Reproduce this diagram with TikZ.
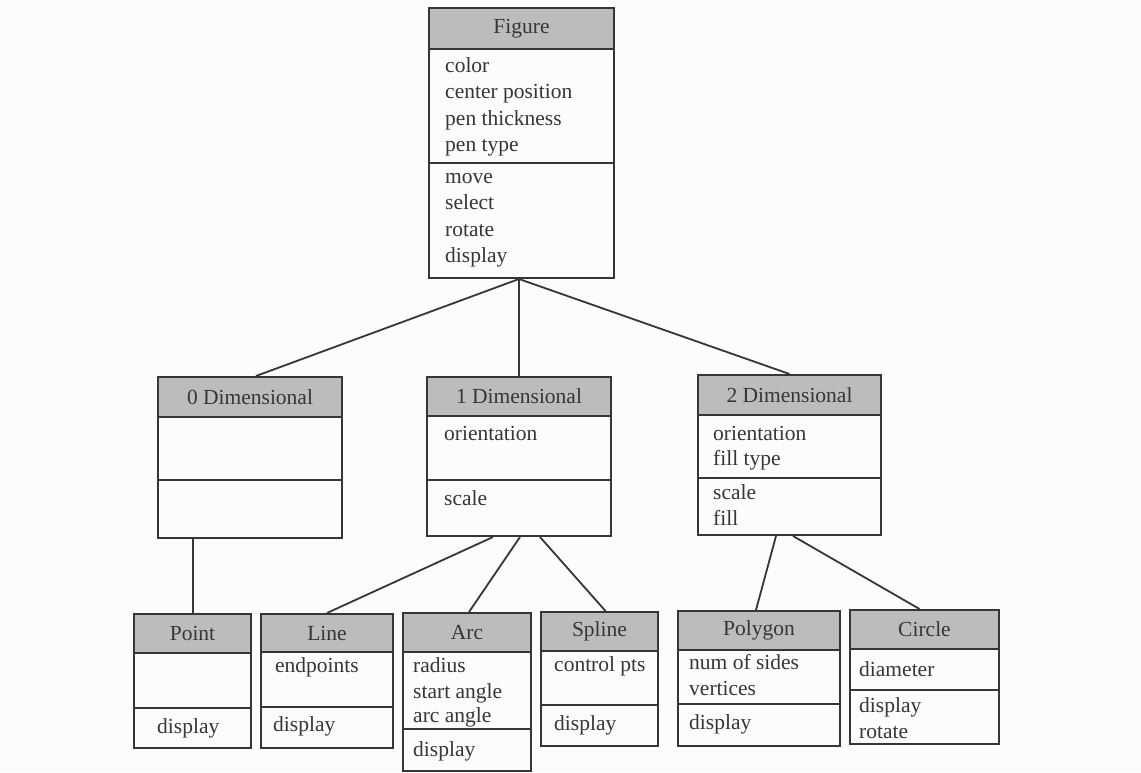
\documentclass[tikz,border=0pt]{standalone}
\usepackage{fontspec}
\setmainfont{Liberation Serif}
\usetikzlibrary{calc}
\definecolor{ink}{HTML}{363636}
\definecolor{hdr}{HTML}{BCBCBC}
\definecolor{paper}{HTML}{FCFCFC}
\tikzset{
  hdrbox/.style={draw=ink, line width=2pt, fill=hdr, anchor=north west, inner sep=0pt, text=ink,
    font=\fontsize{21.5}{26}\selectfont},
  boxframe/.style={draw=ink, line width=2pt, anchor=north west, inner sep=0pt},
  rule/.style={draw=ink, line width=2pt},
  txt/.style={anchor=base west, inner sep=0pt, text=ink, font=\fontsize{21.5}{26}\selectfont},
  link/.style={draw=ink, line width=1.8pt}
}
\newcommand\classbox[8]{%
  \node[hdrbox, minimum width={#4-#2}, minimum height={#6-#3}] (#1-h) at (#2,#3) {#8};
  \node[boxframe, minimum width={#4-#2}, minimum height={#5-#3}] (#1) at (#2,#3) {};
  \draw[rule] (#2,#7) -- (#4,#7);
}
\begin{document}
\begin{tikzpicture}[x=1pt,y=-1pt]
\fill[paper] (0,0) rectangle (1141,772);
\useasboundingbox (0,0) rectangle (1141,772);

\classbox{fig}{428}{7}{613}{277}{48}{163}{Figure}
\classbox{d0}{157}{376}{341}{537}{416}{480}{0 Dimensional}
\classbox{d1}{426}{376}{610}{535}{415}{480}{1 Dimensional}
\classbox{d2}{697}{374}{880}{534}{414}{478}{2 Dimensional}
\classbox{pt}{133}{613}{250}{747}{652}{708}{Point}
\classbox{ln}{260}{613}{392}{747}{651}{707}{Line}
\classbox{arc}{402}{612}{530}{770}{651}{729}{Arc}
\classbox{sp}{540}{611}{657}{745}{650}{705}{Spline}
\classbox{pg}{677}{610}{839}{745}{649}{704}{Polygon}
\classbox{ci}{849}{609}{998}{743}{648}{690}{Circle}

% connectors
\coordinate (fig-b) at ($(fig.south)+(-2.5,0)$);
\draw[link] (fig-b) -- ($(d0.north)+(6,0)$);
\draw[link] (fig-b) -- (fig-b |- d1.north);
\draw[link] (fig-b) -- (d2.north);
\coordinate (pt-t) at ($(pt.north)+(0.5,0)$);
\draw[link] (pt-t) -- (pt-t |- d0.south);
\draw[link] ($(d1.south)+(-26,0)$) -- (ln.north);
\draw[link] ($(d1.south)+(1,0)$) -- ($(arc.north)+(2,0)$);
\draw[link] ($(d1.south)+(21,0)$) -- ($(sp.north)+(6,0)$);
\draw[link] ($(d2.south)+(-13.5,0)$) -- ($(pg.north)+(-3,0)$);
\draw[link] ($(d2.south)+(3.5,0)$) -- ($(ci.north)+(-5,0)$);

% Figure
\node[txt] (fig-a1) at (445,72) {color};
\node[txt] (fig-a2) at (445,98.5) {center position};
\node[txt] (fig-a3) at (445,125) {pen thickness};
\node[txt] (fig-a4) at (445,151.5) {pen type};
\node[txt] (fig-m1) at (445,183) {move};
\node[txt] (fig-m2) at (445,209.5) {select};
\node[txt] (fig-m3) at (445,236) {rotate};
\node[txt] (fig-m4) at (445,262.5) {display};
% 1 Dimensional
\node[txt] (d1-a1) at (444,440) {orientation};
\node[txt] (d1-m1) at (444,505) {scale};
% 2 Dimensional
\node[txt] (d2-a1) at (713,440) {orientation};
\node[txt] (d2-a2) at (713,465) {fill type};
\node[txt] (d2-m1) at (713,499) {scale};
\node[txt] (d2-m2) at (713,525) {fill};
% Point
\node[txt] (pt-m1) at (157,733) {display};
% Line
\node[txt] (ln-a1) at (275,672) {endpoints};
\node[txt] (ln-m1) at (273,731) {display};
% Arc
\node[txt] (arc-a1) at (413,672) {radius};
\node[txt] (arc-a2) at (413,698) {start angle};
\node[txt] (arc-a3) at (413,722) {arc angle};
\node[txt] (arc-m1) at (413,756) {display};
% Spline
\node[txt] (sp-a1) at (554,671) {control pts};
\node[txt] (sp-m1) at (554,730) {display};
% Polygon
\node[txt] (pg-a1) at (689,669) {num of sides};
\node[txt] (pg-a2) at (689,695) {vertices};
\node[txt] (pg-m1) at (689,729) {display};
% Circle
\node[txt] (ci-a1) at (859,676) {diameter};
\node[txt] (ci-m1) at (859,712) {display};
\node[txt] (ci-m2) at (859,738) {rotate};
\end{tikzpicture}
\end{document}
